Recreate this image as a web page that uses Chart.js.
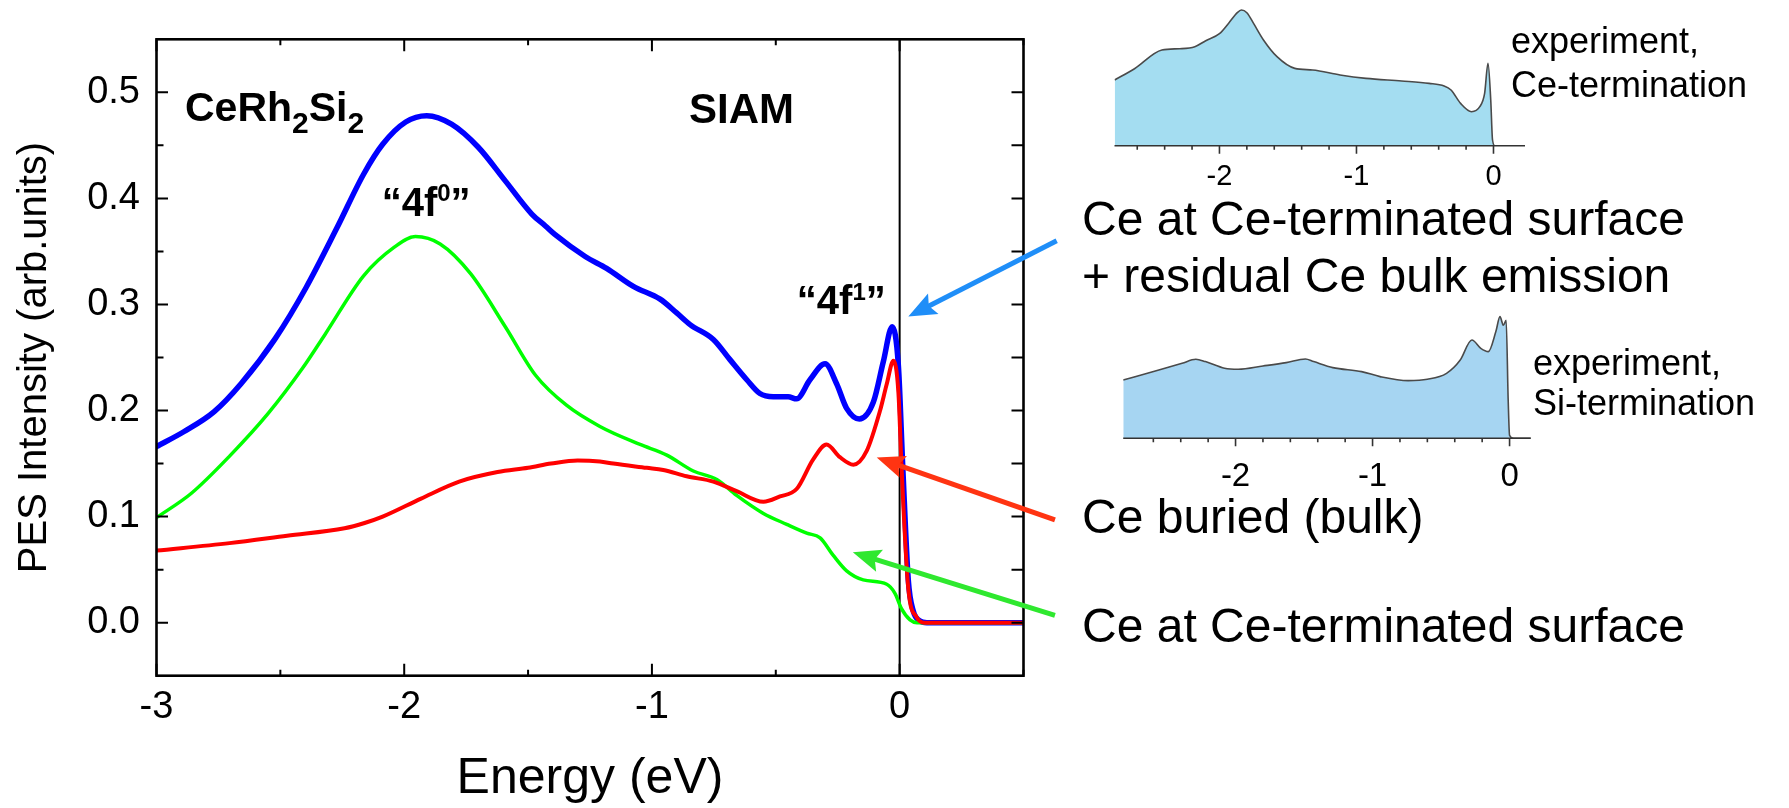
<!DOCTYPE html>
<html>
<head>
<meta charset="utf-8">
<title>CeRh2Si2 SIAM spectra</title>
<script src="https://cdn.jsdelivr.net/npm/chart.js@4.4.1/dist/chart.umd.min.js"></script>
<style>
  html, body { margin: 0; padding: 0; background: #fff; }
  #wrap { position: relative; width: 1789px; height: 808px; overflow: hidden; background: #fff; }
  canvas { position: absolute; }
</style>
</head>
<body>
<div id="wrap">
  <canvas id="main" width="1789" height="808" style="left:0;top:0;width:1789px;height:808px"></canvas>
  <canvas id="insetCe" width="440" height="200" style="left:1100px;top:0;width:440px;height:200px"></canvas>
  <canvas id="insetSi" width="450" height="210" style="left:1100px;top:290px;width:450px;height:210px"></canvas>
</div>
<script>
// ---- SIAM spectra: energy (eV) and PES intensity (arb. units) ----
// Ce at Ce-terminated surface + residual Ce bulk emission
const totalEnergy = [-3.0, -2.89, -2.767, -2.658, -2.52, -2.396, -2.272, -2.164, -2.087, -1.994, -1.909, -1.809, -1.70, -1.592, -1.484, -1.43, -1.392, -1.268, -1.183, -1.075, -0.967, -0.90, -0.846, -0.752, -0.685, -0.617, -0.564, -0.51, -0.45, -0.416, -0.362, -0.301, -0.254, -0.214, -0.163, -0.106, -0.066, -0.03, -0.005, 0.013, 0.035, 0.055, 0.08, 0.11, 0.5];
const totalIntensity = [0.166, 0.180, 0.199, 0.2255, 0.268, 0.316, 0.372, 0.4228, 0.451, 0.472, 0.478, 0.470, 0.448, 0.4165, 0.385, 0.374, 0.366, 0.345, 0.334, 0.317, 0.305, 0.292, 0.281, 0.267, 0.248, 0.229, 0.216, 0.213, 0.213, 0.211, 0.229, 0.244, 0.225, 0.202, 0.192, 0.208, 0.246, 0.279, 0.242, 0.145, 0.04, 0.011, 0.002, 0.0, 0.0];

// Ce buried (bulk)
const bulkEnergy = [-3.0, -2.705, -2.473, -2.241, -2.16, -2.087, -1.932, -1.778, -1.623, -1.50, -1.407, -1.30, -1.21, -1.156, -1.021, -0.954, -0.86, -0.752, -0.658, -0.55, -0.483, -0.416, -0.349, -0.295, -0.241, -0.187, -0.133, -0.079, -0.052, -0.025, -0.005, 0.008, 0.035, 0.069, 0.10, 0.5];
const bulkIntensity = [0.068, 0.075, 0.082, 0.089, 0.094, 0.100, 0.117, 0.133, 0.142, 0.146, 0.150, 0.153, 0.152, 0.150, 0.146, 0.144, 0.138, 0.133, 0.124, 0.114, 0.119, 0.126, 0.154, 0.168, 0.156, 0.149, 0.162, 0.200, 0.225, 0.247, 0.217, 0.145, 0.032, 0.005, 0.0, 0.0];

// Ce at Ce-terminated surface
const surfEnergy = [-3.0, -2.859, -2.705, -2.55, -2.41, -2.319, -2.164, -2.04, -1.955, -1.855, -1.732, -1.592, -1.469, -1.345, -1.21, -1.048, -0.94, -0.833, -0.738, -0.658, -0.55, -0.456, -0.375, -0.321, -0.268, -0.214, -0.147, -0.052, -0.019, 0.008, 0.042, 0.07, 0.5];
const surfIntensity = [0.099, 0.122, 0.157, 0.197, 0.240, 0.272, 0.327, 0.354, 0.364, 0.357, 0.329, 0.279, 0.233, 0.205, 0.185, 0.168, 0.158, 0.143, 0.135, 0.120, 0.103, 0.0927, 0.0844, 0.080, 0.0634, 0.0488, 0.0403, 0.0362, 0.0277, 0.013, 0.0026, 0.0, 0.0];

// Experimental spectra (arb. units), Ce- and Si-terminated surfaces
const expCeEnergy = [-2.765, -2.62, -2.42, -2.29, -2.18, -2.10, -2.0, -1.93, -1.87, -1.84, -1.80, -1.75, -1.68, -1.58, -1.45, -1.32, -1.12, -0.93, -0.67, -0.47, -0.36, -0.31, -0.24, -0.16, -0.10, -0.065, -0.04, -0.02, -0.007, 0.01, 0.23];
const expCeIntensity = [0.657, 0.77, 0.957, 0.97, 0.99, 1.05, 1.12, 1.23, 1.33, 1.357, 1.33, 1.22, 1.06, 0.89, 0.773, 0.757, 0.707, 0.673, 0.647, 0.623, 0.597, 0.557, 0.423, 0.34, 0.39, 0.52, 0.823, 0.457, 0.057, 0.0, 0.0];

const expSiEnergy = [-2.82, -2.56, -2.39, -2.29, -2.22, -2.08, -1.98, -1.80, -1.63, -1.49, -1.43, -1.29, -1.08, -0.945, -0.74, -0.60, -0.46, -0.36, -0.275, -0.21, -0.155, -0.10, -0.07, -0.045, -0.025, -0.01, 0.0, 0.03, 0.155];
const expSiIntensity = [0.583, 0.683, 0.75, 0.79, 0.767, 0.70, 0.69, 0.723, 0.757, 0.793, 0.767, 0.707, 0.667, 0.617, 0.577, 0.59, 0.65, 0.783, 0.983, 0.90, 0.867, 1.067, 1.217, 1.13, 1.18, 0.38, 0.03, 0.0, 0.0];

// ---- axis ticks ----
const xTickValues = [-3, -2, -1, 0];
const xMinorValues = [-2.5, -1.5, -0.5, 0.5];
const yTickValues = [0.0, 0.1, 0.2, 0.3, 0.4, 0.5];
const yMinorValues = [0.05, 0.15, 0.25, 0.35, 0.45];
const insetTickValues = [-2, -1, 0];
const insetMinorValues = [-2.6, -2.4, -2.2, -1.8, -1.6, -1.4, -1.2, -0.8, -0.6, -0.4, -0.2];

const FONT = '"Liberation Sans", Arial, Helvetica, sans-serif';
const pairs = (xs, ys) => xs.map((x, i) => ({ x: x, y: ys[i] }));

// Vertical line at the Fermi level (E = 0)
const fermiLine = {
  id: 'fermiLine',
  beforeDatasetsDraw(chart) {
    const { ctx, chartArea: a, scales: { x } } = chart;
    const px = x.getPixelForValue(0);
    ctx.save();
    ctx.strokeStyle = '#000';
    ctx.lineWidth = 2;
    ctx.beginPath();
    ctx.moveTo(px, a.top);
    ctx.lineTo(px, a.bottom);
    ctx.stroke();
    ctx.restore();
  }
};

// Closed frame with inward-pointing ticks on all four sides
const frameTicks = {
  id: 'frameTicks',
  afterDatasetsDraw(chart) {
    const { ctx, chartArea: a, scales: { x, y } } = chart;
    ctx.save();
    ctx.strokeStyle = '#000';
    ctx.lineWidth = 2;
    ctx.beginPath();
    const vTick = (v, len) => {
      const px = x.getPixelForValue(v);
      ctx.moveTo(px, a.bottom); ctx.lineTo(px, a.bottom - len);
      ctx.moveTo(px, a.top); ctx.lineTo(px, a.top + len);
    };
    xTickValues.forEach(v => vTick(v, 12));
    xMinorValues.forEach(v => vTick(v, 6));
    yTickValues.forEach(v => {
      const py = y.getPixelForValue(v);
      ctx.moveTo(a.left, py); ctx.lineTo(a.left + 11.5, py);
      ctx.moveTo(a.right, py); ctx.lineTo(a.right - 12, py);
    });
    yMinorValues.forEach(v => {
      const py = y.getPixelForValue(v);
      ctx.moveTo(a.left, py); ctx.lineTo(a.left + 7, py);
      ctx.moveTo(a.right, py); ctx.lineTo(a.right - 12, py);
    });
    ctx.stroke();
    ctx.lineWidth = 2.6;
    ctx.strokeRect(a.left, a.top, a.right - a.left, a.bottom - a.top);
    ctx.restore();
  }
};

function drawRuns(ctx, x, y, runs) {
  let cx = x;
  runs.forEach(r => {
    ctx.font = 'bold ' + r.size + 'px ' + FONT;
    ctx.fillText(r.text, cx, y + (r.dy || 0));
    cx += ctx.measureText(r.text).width;
  });
}

function drawArrow(ctx, x1, y1, x2, y2, color) {
  const ang = Math.atan2(y2 - y1, x2 - x1);
  const c = Math.cos(ang), s = Math.sin(ang);
  const headLen = 28, headW = 11.5;
  const bx = x2 - headLen * c, by = y2 - headLen * s;
  ctx.strokeStyle = color;
  ctx.fillStyle = color;
  ctx.lineWidth = 5;
  ctx.lineCap = 'butt';
  ctx.beginPath();
  ctx.moveTo(x1, y1);
  ctx.lineTo(bx + 6 * c, by + 6 * s);
  ctx.stroke();
  ctx.beginPath();
  ctx.moveTo(x2, y2);
  ctx.lineTo(bx - headW * s, by + headW * c);
  ctx.lineTo(bx + 5 * c, by + 5 * s);
  ctx.lineTo(bx + headW * s, by - headW * c);
  ctx.closePath();
  ctx.fill();
}

// Labels inside the plot and the explanatory text with arrows
const annotations = {
  id: 'annotations',
  afterDraw(chart) {
    const { ctx, scales: { x, y } } = chart;
    const X = v => x.getPixelForValue(v), Y = v => y.getPixelForValue(v);
    ctx.save();
    ctx.fillStyle = '#000';
    ctx.textAlign = 'left';
    ctx.textBaseline = 'alphabetic';

    drawRuns(ctx, X(-2.885), Y(0.4728), [
      { text: 'CeRh', size: 41 }, { text: '2', size: 30, dy: 11.7 },
      { text: 'Si', size: 41 }, { text: '2', size: 30, dy: 11.7 }
    ]);
    drawRuns(ctx, X(-0.850), Y(0.4712), [{ text: 'SIAM', size: 42 }]);
    drawRuns(ctx, X(-2.091), Y(0.3836), [
      { text: '\u201C', size: 40 }, { text: '4f', size: 40 },
      { text: '0', size: 24, dy: -15 }, { text: '\u201D', size: 40 }
    ]);
    drawRuns(ctx, X(-0.415), Y(0.2912), [
      { text: '\u201C', size: 40 }, { text: '4f', size: 40 },
      { text: '1', size: 24, dy: -14 }, { text: '\u201D', size: 40 }
    ]);

    ctx.font = '48px ' + FONT;
    ctx.fillText('Ce at Ce-terminated surface', 1082, 235);
    ctx.fillText('+ residual Ce bulk emission', 1082, 292);
    ctx.fillText('Ce buried (bulk)', 1082, 533);
    ctx.fillText('Ce at Ce-terminated surface', 1082, 642);

    ctx.font = '36px ' + FONT;
    ctx.fillText('experiment,', 1511, 53);
    ctx.fillText('Ce-termination', 1511, 97);
    ctx.fillText('experiment,', 1533, 375);
    ctx.fillText('Si-termination', 1533, 415);

    drawArrow(ctx, X(0.634), Y(0.360), X(0.035), Y(0.2887), '#1f8ef8');
    drawArrow(ctx, X(0.627), Y(0.097), X(-0.0925), Y(0.1557), '#ff3412');
    drawArrow(ctx, X(0.627), Y(0.0069), X(-0.189), Y(0.0663), '#2fe82f');
    ctx.restore();
  }
};

new Chart(document.getElementById('main'), {
  type: 'line',
  data: {
    datasets: [
      { label: 'Ce buried (bulk)', data: pairs(bulkEnergy, bulkIntensity), borderColor: '#ff0000', borderWidth: 4, order: 0 },
      { label: 'Ce at Ce-terminated surface', data: pairs(surfEnergy, surfIntensity), borderColor: '#00ff00', borderWidth: 3.5, order: 1 },
      { label: 'Ce at Ce-terminated surface + residual Ce bulk emission', data: pairs(totalEnergy, totalIntensity), borderColor: '#0000ff', borderWidth: 5.5, order: 2 }
    ]
  },
  options: {
    responsive: false,
    animation: false,
    devicePixelRatio: 1,
    layout: { padding: { left: 0, right: 765.5, top: 37.5, bottom: 0 } },
    elements: {
      point: { radius: 0 },
      line: { cubicInterpolationMode: 'monotone', borderJoinStyle: 'round', borderCapStyle: 'round', fill: false }
    },
    plugins: { legend: { display: false }, tooltip: { enabled: false } },
    scales: {
      x: {
        type: 'linear', position: 'bottom', min: -3, max: 0.5,
        afterFit: s => { s.height = 132.3; },
        afterBuildTicks: s => { s.ticks = xTickValues.map(v => ({ value: v })); },
        grid: { display: false, drawTicks: false },
        border: { display: false },
        ticks: { color: '#000', font: { family: FONT, size: 38 }, padding: 9, callback: v => String(v) },
        title: { display: true, text: 'Energy (eV)', color: '#000', font: { family: FONT, size: 50, lineHeight: 1 }, padding: { top: 0, bottom: 4 } }
      },
      y: {
        type: 'linear', position: 'left', min: -0.05, max: 0.55,
        afterFit: s => { s.width = 156.5; },
        afterBuildTicks: s => { s.ticks = yTickValues.map(v => ({ value: v })); },
        grid: { display: false, drawTicks: false },
        border: { display: false },
        ticks: { color: '#000', font: { family: FONT, size: 38 }, padding: 16.5, callback: v => Number(v).toFixed(1) },
        title: { display: true, text: 'PES Intensity (arb.units)', color: '#000', font: { family: FONT, size: 40, lineHeight: 1 }, padding: { top: 15, bottom: 0 } }
      }
    }
  },
  plugins: [fermiLine, frameTicks, annotations]
});

// Energy axis of the experimental insets: ticks point downward
const insetAxis = {
  id: 'insetAxis',
  afterDraw(chart) {
    const { ctx, chartArea: a, scales: { x } } = chart;
    ctx.save();
    ctx.strokeStyle = '#333';
    ctx.lineWidth = 1.6;
    ctx.beginPath();
    ctx.moveTo(a.left, a.bottom);
    ctx.lineTo(a.right, a.bottom);
    insetTickValues.forEach(v => { const p = x.getPixelForValue(v); ctx.moveTo(p, a.bottom); ctx.lineTo(p, a.bottom + 8); });
    insetMinorValues.forEach(v => { const p = x.getPixelForValue(v); ctx.moveTo(p, a.bottom); ctx.lineTo(p, a.bottom + 4); });
    ctx.stroke();
    ctx.restore();
  }
};

function makeInset(id, energy, intensity, o) {
  return new Chart(document.getElementById(id), {
    type: 'line',
    data: {
      datasets: [{
        data: pairs(energy, intensity),
        borderColor: '#4a4a4a', borderWidth: 1.6,
        backgroundColor: o.fill, fill: 'origin',
        pointRadius: 0, cubicInterpolationMode: 'monotone'
      }]
    },
    options: {
      responsive: false, animation: false, devicePixelRatio: 1,
      layout: { padding: { left: o.padL, right: o.padR, top: o.padT, bottom: 0 } },
      plugins: { legend: { display: false }, tooltip: { enabled: false } },
      scales: {
        x: {
          type: 'linear', min: o.min, max: o.max,
          afterFit: s => { s.height = o.axisH; },
          afterBuildTicks: s => { s.ticks = insetTickValues.map(v => ({ value: v })); },
          grid: { display: false, drawTicks: false },
          border: { display: false },
          ticks: { color: '#000', font: { family: FONT, size: o.labelSize }, padding: o.labelPad, callback: v => String(v) }
        },
        y: { display: false, min: 0, max: 1.4 }
      }
    },
    plugins: [insetAxis]
  });
}

makeInset('insetCe', expCeEnergy, expCeIntensity, {
  min: -2.766, max: 0.23, padL: 14.5, padR: 15, padT: 5.7, axisH: 54.3,
  labelSize: 29, labelPad: 13.6, fill: 'rgb(164, 221, 241)'
});
makeInset('insetSi', expSiEnergy, expSiIntensity, {
  min: -2.82, max: 0.155, padL: 23.2, padR: 19.2, padT: 8.3, axisH: 61.7,
  labelSize: 33, labelPad: 18.6, fill: 'rgb(166, 213, 242)'
});
</script>
</body>
</html>
